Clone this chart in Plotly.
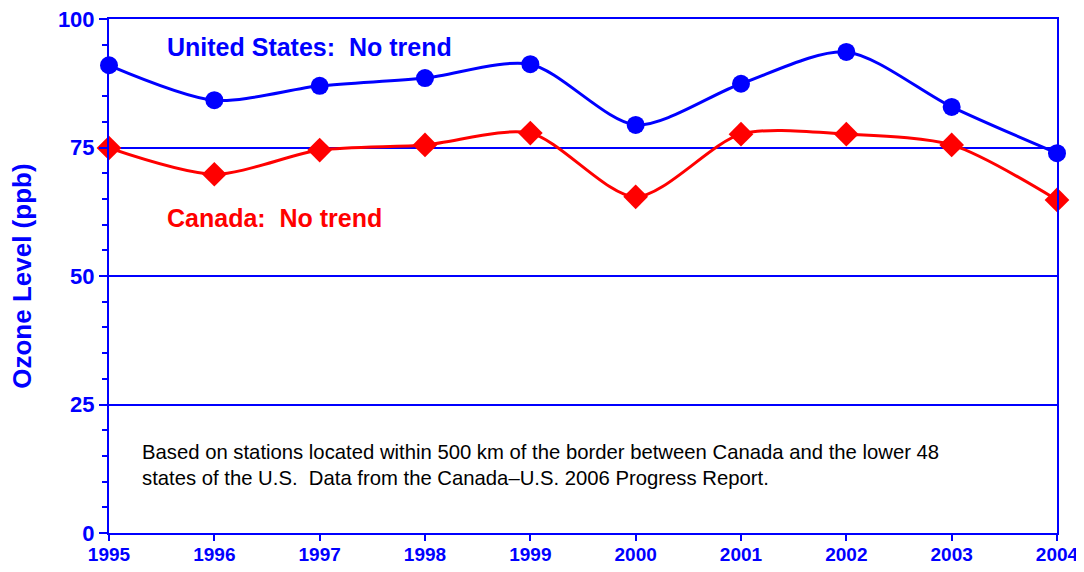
import plotly.graph_objects as go

years = [1995, 1996, 1997, 1998, 1999, 2000, 2001, 2002, 2003, 2004]
us_values = [91.0, 84.2, 87.0, 88.5, 91.2, 79.4, 87.4, 93.6, 82.9, 73.9]
canada_values = [74.9, 69.8, 74.5, 75.5, 77.8, 65.4, 77.6, 77.6, 75.5, 64.8]
y_ticks = [0, 25, 50, 75, 100]

BLUE = "#0000FF"
RED = "#FF0000"
FONT = "Liberation Sans, Arial, sans-serif"

fig = go.Figure()
fig.add_trace(go.Scatter(
    x=years, y=us_values, mode="lines+markers", name="United States",
    line=dict(color=BLUE, width=3, shape="spline", smoothing=0.8),
    marker=dict(symbol="circle", size=18, color=BLUE),
    cliponaxis=False,
))
fig.add_trace(go.Scatter(
    x=years, y=canada_values, mode="lines+markers", name="Canada",
    line=dict(color=RED, width=3, shape="spline", smoothing=0.8),
    marker=dict(symbol="diamond", size=19, color=RED),
    cliponaxis=False,
))

fig.add_annotation(x=0.059, y=0.946, xref="paper", yref="paper", xanchor="left", yanchor="middle",
                   text="United States:  No trend", showarrow=False,
                   font=dict(family=FONT, size=25, color=BLUE, weight="bold"))
fig.add_annotation(x=0.059, y=0.613, xref="paper", yref="paper", xanchor="left", yanchor="middle",
                   text="Canada:  No trend", showarrow=False,
                   font=dict(family=FONT, size=25, color=RED, weight="bold"))
fig.add_annotation(x=0.033, y=0.132, xref="paper", yref="paper", xanchor="left", yanchor="middle",
                   align="left",
                   text="Based on stations located within 500 km of the border between Canada and the lower 48<br>states of the U.S.  Data from the Canada\u2013U.S. 2006 Progress Report.",
                   showarrow=False,
                   font=dict(family=FONT, size=20.3, color="black"))
fig.add_annotation(x=-0.092, y=0.5, xref="paper", yref="paper", xanchor="center", yanchor="middle",
                   text="Ozone Level (ppb)", textangle=-90, showarrow=False,
                   font=dict(family=FONT, size=26, color=BLUE, weight="bold"))

fig.update_layout(
    width=1076, height=564,
    margin=dict(l=101, r=27, t=11, b=39, autoexpand=False),
    paper_bgcolor="white", plot_bgcolor="white",
    showlegend=False,
    font=dict(family=FONT),
)
fig.update_xaxes(
    range=[1995, 2004], tickvals=years, ticktext=[str(y) for y in years],
    showgrid=False, showline=True, linecolor=BLUE, linewidth=2, mirror=True,
    ticks="outside", tickcolor=BLUE, ticklen=6, tickwidth=2,
    tickfont=dict(family=FONT, size=19, color=BLUE, weight="bold"),
    zeroline=False, automargin=False, ticklabeloverflow="allow", ticklabelstandoff=-3,
)
fig.update_yaxes(
    range=[0, 100], tickvals=y_ticks,
    showgrid=True, gridcolor=BLUE, gridwidth=1.5,
    showline=True, linecolor=BLUE, linewidth=2, mirror=True,
    ticks="outside", tickcolor=BLUE, ticklen=8, tickwidth=2,
    minor=dict(dtick=5, ticks="outside", ticklen=5, tickcolor=BLUE, tickwidth=1.5, showgrid=False),
    tickfont=dict(family=FONT, size=22, color=BLUE, weight="bold"),
    zeroline=False, automargin=False, ticklabeloverflow="allow",
)

fig.write_html("out.html")
